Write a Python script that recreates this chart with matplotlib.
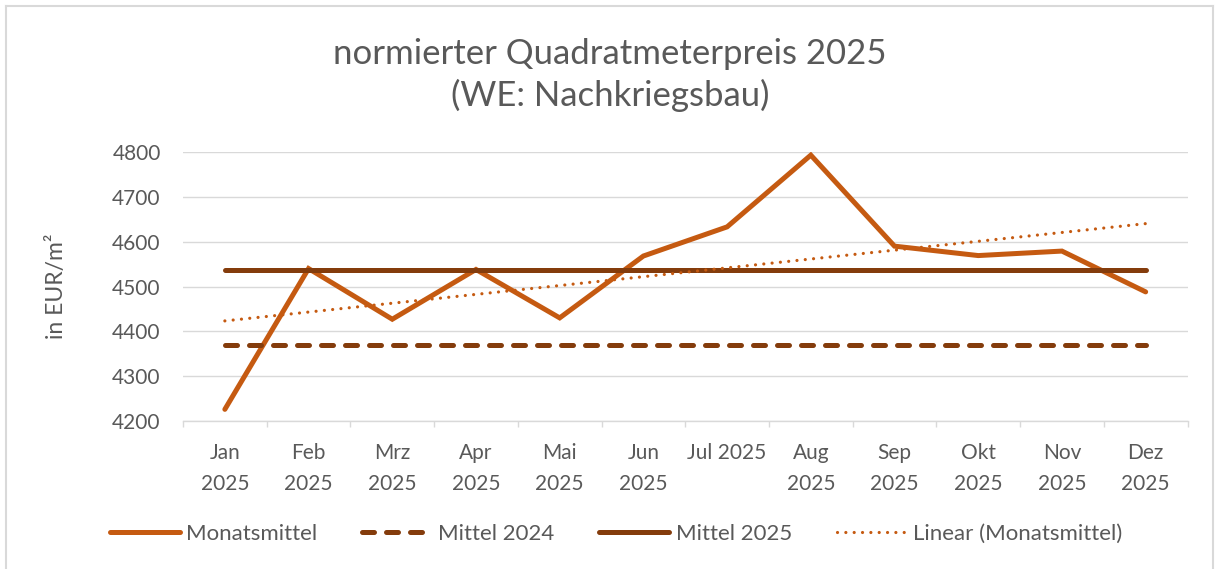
import numpy as np
import matplotlib
matplotlib.use("Agg")
import matplotlib.pyplot as plt
from matplotlib.lines import Line2D

# ---- data ----
months = ["Jan\n2025", "Feb\n2025", "Mrz\n2025", "Apr\n2025", "Mai\n2025", "Jun\n2025",
          "Jul 2025", "Aug\n2025", "Sep\n2025", "Okt\n2025", "Nov\n2025", "Dez\n2025"]
monatsmittel = [4226, 4540, 4427, 4538, 4430, 4568, 4633, 4793, 4590, 4569, 4579, 4488]
mittel_2024 = 4369
mittel_2025 = 4537
yticks = [4200, 4300, 4400, 4500, 4600, 4700, 4800]

title = "normierter Quadratmeterpreis 2025\n(WE: Nachkriegsbau)"
ylabel = "in EUR/m²"

C_MAIN = "#C55A11"
C_DARK = "#843C0C"
C_TEXT = "#595959"
C_GRID = "#D9D9D9"

plt.rcParams['font.family'] = ['Lato', 'DejaVu Sans']

W, H = 1217, 569
fig = plt.figure(figsize=(W / 100, H / 100), dpi=100)
ax = fig.add_axes([183 / W, 1 - 421 / H, (1187.5 - 183) / W, (421 - 152) / H])

x = np.arange(len(months))
n = len(months)

l1, = ax.plot(x, monatsmittel, color=C_MAIN, lw=3.6, solid_capstyle='round',
              solid_joinstyle='miter', label="Monatsmittel", zorder=3)
l2, = ax.plot(x, [mittel_2024] * n, color=C_DARK, lw=3.6, dashes=(2.4, 2.4),
              dash_capstyle='round', label="Mittel 2024", zorder=4)
l3, = ax.plot(x, [mittel_2025] * n, color=C_DARK, lw=3.6, solid_capstyle='round',
              label="Mittel 2025", zorder=5)
coef = np.polyfit(x, monatsmittel, 1)
trend = np.polyval(coef, x)
l4, = ax.plot(x, trend, color=C_MAIN, lw=2.3, dashes=(0.01, 2.6),
              dash_capstyle='round', label="Linear (Monatsmittel)", zorder=6)

ax.set_xlim(-0.5, n - 0.5)
ax.set_ylim(4200, 4800)
ax.set_yticks(yticks)
ax.set_xticks(x)
ax.set_xticklabels(months, linespacing=1.7, va='top')
ax.set_xticks(np.arange(-0.5, n, 1.0), minor=True)
ax.tick_params(axis='x', which='major', length=0, pad=16, labelsize=15, labelcolor=C_TEXT)
ax.tick_params(axis='x', which='minor', length=4.5, width=1, color=C_GRID, direction='out')
ax.tick_params(axis='y', length=0, pad=16, labelsize=15, labelcolor=C_TEXT)

ax.grid(axis='y', color=C_GRID, lw=1.0, zorder=0)
ax.set_axisbelow(True)
for s in ['top', 'right', 'left']:
    ax.spines[s].set_visible(False)
ax.spines['bottom'].set_color(C_GRID)
ax.spines['bottom'].set_linewidth(1.0)

fig.text(56 / W, 1 - 286 / H, ylabel, rotation=90, ha='center', va='center',
         fontsize=16.5, color=C_TEXT)
fig.text(610 / W, 1 - 75 / H, title, ha='center', va='center', fontsize=25,
         color=C_TEXT, linespacing=1.3)

fig.legend(handles=[l1, l2, l3, l4], loc='center', bbox_to_anchor=(616 / W, 1 - 534 / H),
           ncol=4, frameon=False, fontsize=16, labelcolor=C_TEXT, handlelength=3.15,
           handletextpad=0.3, columnspacing=2.0)

# outer chart border
for (xs, ys) in [((6, 6), (6, H)), ((6, 1213), (6, 6)), ((1213, 1213), (6, H))]:
    fig.add_artist(Line2D([v / W for v in xs], [1 - v / H for v in ys],
                          color=C_GRID, lw=1.5, transform=fig.transFigure))

fig.savefig("out.png", dpi=100, facecolor='white')
